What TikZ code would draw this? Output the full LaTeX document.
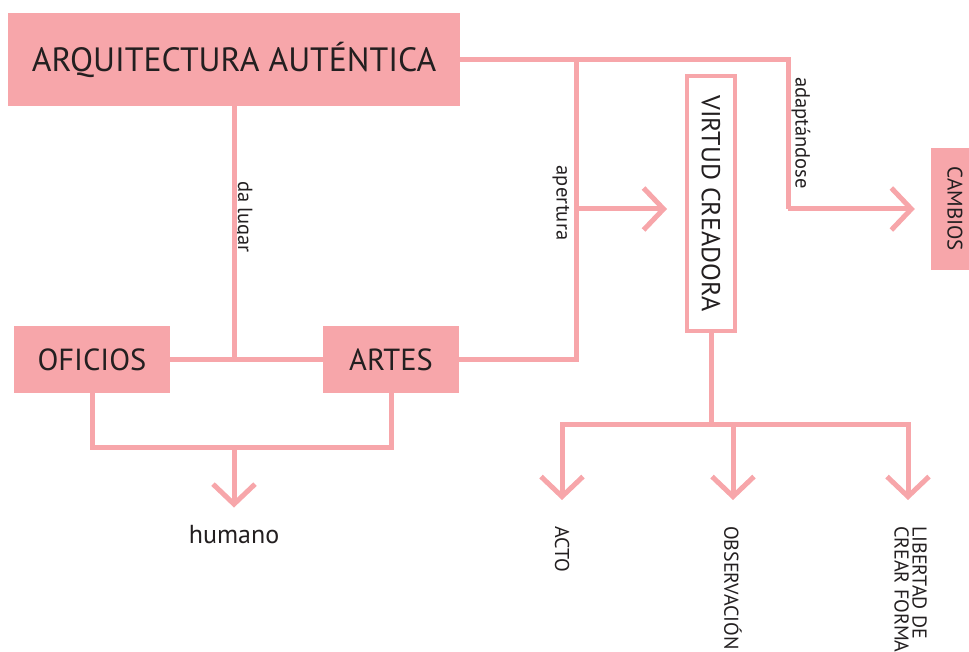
\documentclass[tikz,border=0pt]{standalone}
\usepackage{fontspec}
\setmainfont{PT Sans}
\usetikzlibrary{arrows.meta}
\definecolor{pk}{RGB}{247,166,170}
\definecolor{tx}{RGB}{35,31,32}
\begin{document}
\begin{tikzpicture}[x=1pt,y=-1pt,
  pinkbox/.style={fill=pk,inner sep=0pt,text=tx},
  conn/.style={draw=pk,line width=5pt},
  arr/.style={conn,-{Straight Barb[length=20pt,width=42pt,line join=miter]}},
  lbl/.style={inner sep=0pt,text=tx,font=\fontsize{20.5}{22}\selectfont},
  endlbl/.style={inner sep=0pt,text=tx,font=\fontsize{20}{22}\selectfont,anchor=north}]
\useasboundingbox (0,0) rectangle (969,652);
% boxes
\node[pinkbox,minimum width=452pt,minimum height=93pt,font=\fontsize{33.7}{36}\selectfont] (arq) at (234,59.5) {ARQUITECTURA AUTÉNTICA};
\node[pinkbox,minimum width=156pt,minimum height=67pt,font=\fontsize{30.5}{32}\selectfont] (ofi) at (92,359.5) {OFICIOS};
\node[pinkbox,minimum width=136pt,minimum height=67pt,font=\fontsize{30.5}{32}\selectfont] (art) at (391,359.5) {ARTES};
\node[draw=pk,fill=white,line width=4pt,inner sep=0pt,minimum width=48pt,minimum height=255pt,text=tx,font=\fontsize{26}{28}\selectfont] (vir) at (711,203.5) {\rotatebox[origin=c]{-90}{VIRTUD CREADORA}};
\node[pinkbox,minimum width=48pt,minimum height=122pt,font=\fontsize{21}{23}\selectfont] (cam) at (955,209) {\rotatebox[origin=c]{-90}{CAMBIOS}};
% end labels
\node[inner sep=0pt,text=tx,font=\fontsize{26}{28}\selectfont,anchor=center] (hum) at (234,535) {humano};
\node[endlbl] (acto) at (562,526) {\rotatebox{-90}{ACTO}};
\node[endlbl] (obs) at (733,526) {\rotatebox{-90}{OBSERVACIÓN}};
\node[endlbl] (lib) at (908,526) {\rotatebox{-90}{\begin{tabular}{@{}l@{}}LIBERTAD DE\\[-4pt]CREAR FORMA\end{tabular}}};
% edge labels
\node[lbl] (l1) at (243,217) {\rotatebox{-90}{da lugar}};
\node[lbl] (l2) at (561,203) {\rotatebox{-90}{apertura}};
\node[lbl] (l3) at (801,133) {\rotatebox{-90}{adaptándose}};
% junctions
\coordinate (ja) at (576,60);
\coordinate (jb) at (576,209);
\coordinate (jc) at (788,209);
\coordinate (j2) at (234,359.5);
\coordinate (j3) at (234,447);
\coordinate (j4) at (711,424);
% connectors
\draw[conn] (arq.east) -| (jc);
\draw[arr,shorten >=16pt] (jc) -- (cam.west |- jc);
\draw[conn] (art.east) -| (ja);
\draw[arr,shorten >=18pt] (jb) -- (vir.west |- jb);
\draw[conn] (arq.south) -- (j2);
\draw[conn] (ofi.east) -- (art.west);
\draw[conn] (ofi.south) |- (j3) -| (art.south);
\draw[arr,shorten >=18pt] (j3) -- (hum.north);
\draw[conn] (vir.south) -- (j4);
\draw[arr,shorten >=26pt] (j4) -| (acto.north);
\draw[arr,shorten >=26pt] (j4) -| (obs.north);
\draw[arr,shorten >=26pt] (j4) -| (lib.north);
\end{tikzpicture}
\end{document}
